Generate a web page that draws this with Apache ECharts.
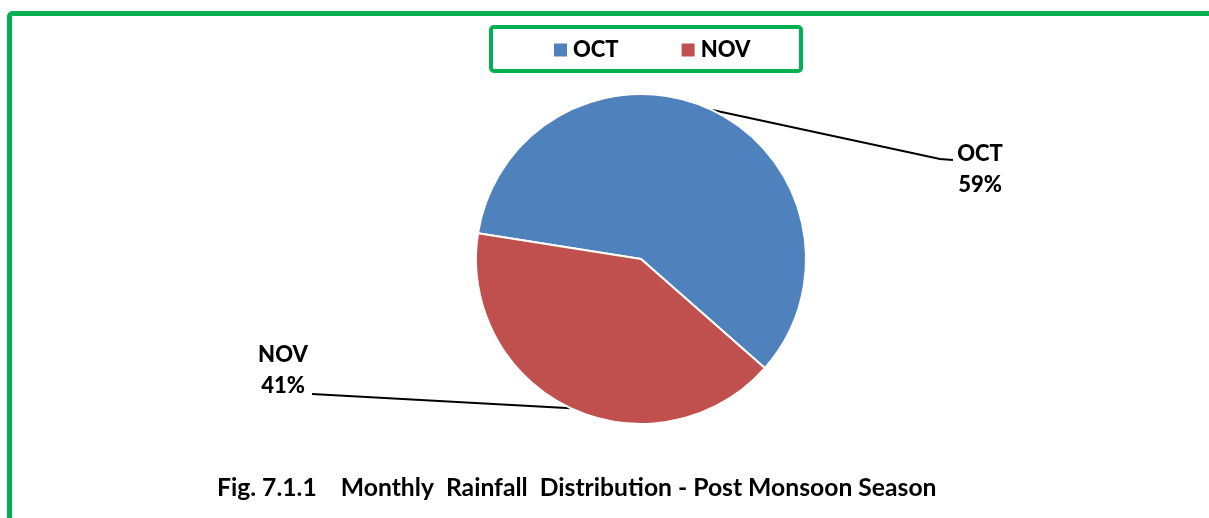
<!DOCTYPE html>
<html>
<head>
<meta charset="utf-8">
<script src="https://cdn.jsdelivr.net/npm/echarts@6/dist/echarts.min.js"></script>
<style>
html,body{margin:0;padding:0;background:#fff;}
#chart{width:1209px;height:518px;}
</style>
</head>
<body>
<div id="chart"></div>
<script>
const categories = ['OCT', 'NOV'];
const values = [59, 41];
const colors = ['#4f81bd', '#c0504d'];
const captionText = 'Fig. 7.1.1    Monthly  Rainfall  Distribution - Post Monsoon Season';

const FONT = 'Lato';
const GREEN = '#00b050';

const labelPos = {
  OCT: { x: 980, y: 169, line: [[940, 159], [953, 160]] },
  NOV: { x: 283, y: 370, line: [[330, 395], [312, 394]] }
};

const chart = echarts.init(document.getElementById('chart'), null, { renderer: 'canvas' });

const option = {
  backgroundColor: '#fff',
  animation: false,
  color: colors,
  title: {
    text: captionText,
    left: 217,
    top: 476,
    padding: 0,
    textStyle: { fontFamily: FONT, fontWeight: 'bold', fontSize: 24.7, color: '#000' }
  },
  legend: {
    data: categories,
    left: 552,
    top: 39,
    padding: 0,
    itemWidth: 15,
    itemHeight: 15,
    itemGap: 61,
    icon: 'rect',
    textStyle: { fontFamily: FONT, fontWeight: 900, fontSize: 22, color: '#000' }
  },
  graphic: [
    {
      type: 'rect',
      shape: { x: 9.5, y: 13.5, width: 1400, height: 700, r: 3 },
      style: { fill: 'none', stroke: GREEN, lineWidth: 5 },
      silent: true
    },
    {
      type: 'rect',
      shape: { x: 491, y: 27, width: 310, height: 44, r: 3 },
      style: { fill: 'none', stroke: GREEN, lineWidth: 4 },
      silent: true
    }
  ],
  series: [
    {
      type: 'pie',
      center: [641, 259],
      radius: 165,
      startAngle: 171,
      clockwise: true,
      data: categories.map((c, i) => ({ name: c, value: values[i] })),
      itemStyle: { borderColor: '#fff', borderWidth: 2 },
      label: {
        show: true,
        position: 'outside',
        formatter: '{b}\n{d}%',
        fontFamily: FONT,
        fontWeight: 900,
        fontSize: 22,
        lineHeight: 31,
        color: '#000',
        align: 'center'
      },
      labelLine: {
        show: true,
        length: 20,
        length2: 20,
        smooth: false,
        lineStyle: { color: '#000', width: 2 }
      },
      labelLayout: function (params) {
        const name = categories[params.dataIndex];
        const p = labelPos[name];
        const start = params.labelLinePoints ? params.labelLinePoints[0] : null;
        const res = { x: p.x, y: p.y, align: 'center', verticalAlign: 'middle' };
        if (start) {
          res.labelLinePoints = [[start[0], start[1]], p.line[0], p.line[1]];
        }
        return res;
      }
    }
  ]
};

chart.setOption(option);
</script>
</body>
</html>
